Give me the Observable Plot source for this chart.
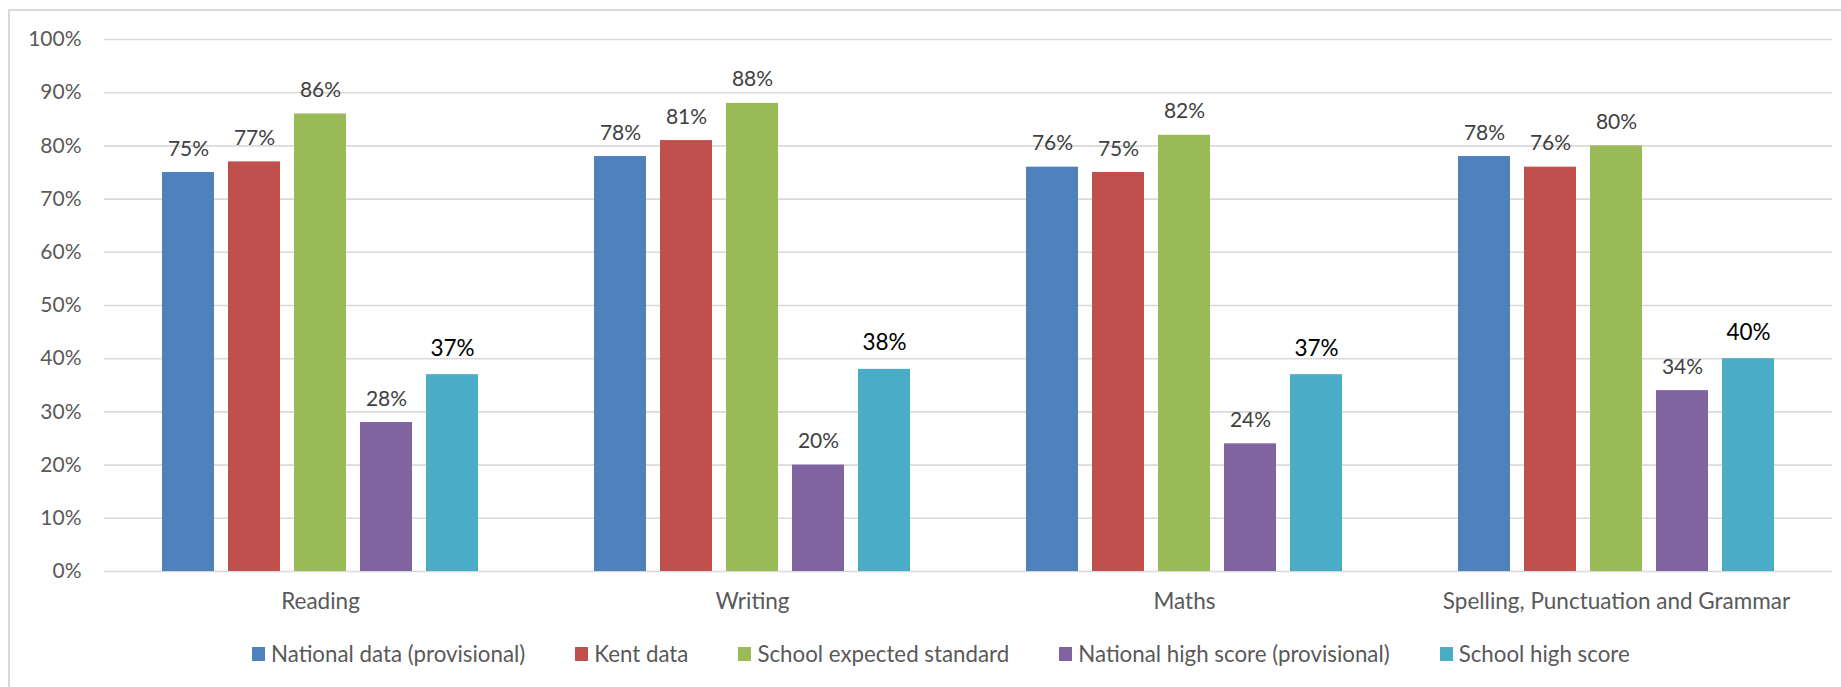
<!DOCTYPE html>
<html>
<head>
<meta charset="utf-8">
<script src="https://cdn.jsdelivr.net/npm/d3@7"></script>
<script src="https://cdn.jsdelivr.net/npm/@observablehq/plot@0.6"></script>
<style>
  html, body { margin: 0; padding: 0; background: #fff; overflow: hidden; width: 1841px; height: 687px; }
  #frame { position: absolute; left: 8px; top: 9px; width: 1900px; height: 800px; border: 2px solid #d9d9d9; box-sizing: border-box; }
  #chart { position: absolute; left: 0; top: 0; }
  #chart g[aria-label^="fx-axis"] text { font-size: 22.5px; }
  #legend { position: absolute; left: 252px; top: 643px; display: flex; font-family: Lato, sans-serif; font-size: 22.3px; line-height: 22px; color: #595959; white-space: nowrap; }
  .item { display: inline-flex; align-items: center; margin-right: 50px; }
  .sw { width: 13px; height: 14px; margin-right: 6px; display: inline-block; }
</style>
</head>
<body>
<div id="frame"></div>
<div id="chart"></div>
<div id="legend"></div>
<script>
const categories = ["Reading", "Writing", "Maths", "Spelling, Punctuation and Grammar"];
const seriesNames = ["National data (provisional)", "Kent data", "School expected standard", "National high score (provisional)", "School high score"];
const seriesColors = ["#4f81bd", "#c0504d", "#9bbb59", "#8064a2", "#4bacc6"];
const nationalData = [75, 78, 76, 78];
const kentData = [77, 81, 75, 76];
const schoolExpected = [86, 88, 82, 80];
const nationalHigh = [28, 20, 24, 34];
const schoolHigh = [37, 38, 37, 40];
const yTicks = [0, 10, 20, 30, 40, 50, 60, 70, 80, 90, 100];

const seriesValues = [nationalData, kentData, schoolExpected, nationalHigh, schoolHigh];
const rows = [];
categories.forEach((c, ci) => {
  seriesNames.forEach((s, si) => {
    rows.push({category: c, series: s, value: seriesValues[si][ci]});
  });
});
const highlight = seriesNames[4];

const chart = Plot.plot({
  width: 1841,
  height: 630,
  marginTop: 39,
  marginLeft: 102,
  marginRight: 8,
  marginBottom: 59,
  style: {fontFamily: "Lato, sans-serif", fontSize: "21px", color: "#595959", background: "transparent"},
  fx: {domain: categories, padding: 0, axis: "bottom", label: null, tickSize: 0, tickPadding: 22},
  x: {domain: seriesNames, paddingInner: 0.218, paddingOuter: 0.865, axis: null},
  y: {domain: [0, 100], ticks: yTicks, tickSize: 0, tickPadding: 23, tickFormat: d => d + "%", label: null},
  color: {domain: seriesNames, range: seriesColors},
  marks: [
    Plot.ruleY(yTicks, {stroke: "#d9d9d9", strokeWidth: 1.6}),
    Plot.barY(rows, {fx: "category", x: "series", y: "value", fill: "series"}),
    Plot.text(rows.filter(d => d.series !== highlight), {fx: "category", x: "series", y: "value", text: d => d.value + "%", lineAnchor: "bottom", dy: -17, fill: "#404040", fontSize: 21}),
    Plot.text(rows.filter(d => d.series === highlight), {fx: "category", x: "series", y: "value", text: d => d.value + "%", lineAnchor: "bottom", dy: -19, fill: "#000000", fontSize: 22.5})
  ]
});
document.getElementById("chart").appendChild(chart);

const legend = document.getElementById("legend");
seriesNames.forEach((s, i) => {
  const item = document.createElement("span");
  item.className = "item";
  const sw = document.createElement("span");
  sw.className = "sw";
  sw.style.background = seriesColors[i];
  const t = document.createElement("span");
  t.textContent = s;
  item.appendChild(sw);
  item.appendChild(t);
  legend.appendChild(item);
});
</script>
</body>
</html>
